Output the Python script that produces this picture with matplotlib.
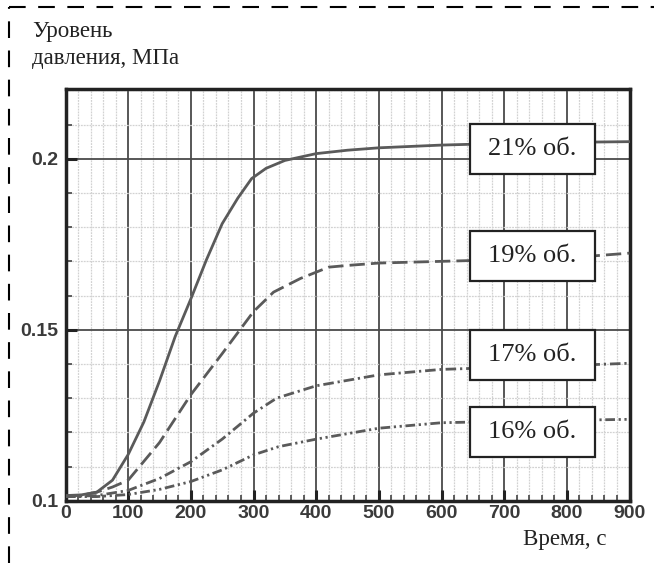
import matplotlib
matplotlib.use("Agg")
import matplotlib.pyplot as plt
from matplotlib.lines import Line2D
from matplotlib.patches import Rectangle
from matplotlib.ticker import MultipleLocator, FixedLocator, FixedFormatter

# ---- data ----
t21 = [0, 25, 50, 75, 100, 125, 150, 175, 200, 225, 250, 275, 297, 320, 350, 400, 450, 500, 600, 700, 800, 900]
p21 = [0.1015, 0.1017, 0.1025, 0.106, 0.1135, 0.123, 0.135, 0.148, 0.159, 0.1705, 0.181, 0.1885, 0.1942,
       0.1972, 0.1995, 0.2015, 0.2025, 0.2032, 0.204, 0.2045, 0.2048, 0.205]

t19 = [0, 25, 50, 75, 100, 150, 200, 250, 300, 332, 375, 420, 450, 500, 600, 700, 800, 900]
p19 = [0.1013, 0.1016, 0.1025, 0.104, 0.106, 0.117, 0.131, 0.143, 0.1553, 0.161, 0.165, 0.1683, 0.1688,
       0.1695, 0.170, 0.1705, 0.171, 0.1724]

t17 = [0, 50, 100, 150, 200, 250, 300, 337, 400, 500, 600, 700, 800, 900]
p17 = [0.1012, 0.1015, 0.1030, 0.1065, 0.1114, 0.118, 0.1256, 0.1300, 0.1336, 0.1368, 0.1384, 0.139, 0.1395, 0.1402]

t16 = [0, 50, 100, 150, 200, 250, 300, 340, 400, 500, 600, 700, 800, 900]
p16 = [0.1012, 0.1012, 0.1018, 0.1033, 0.1056, 0.109, 0.1134, 0.1158, 0.1180, 0.1212, 0.1228, 0.1232, 0.1235, 0.1238]

labels = ["21% об.", "19% об.", "17% об.", "16% об."]
label_t = [745, 745, 745, 745]
label_p = [0.2028, 0.1716, 0.1425, 0.1200]

x_ticks = [0, 100, 200, 300, 400, 500, 600, 700, 800, 900]
y_ticks = [0.1, 0.15, 0.2]
y_tick_labels = ["0.1", "0.15", "0.2"]

# ---- figure ----
W, H = 654, 563
fig = plt.figure(figsize=(W / 100, H / 100), dpi=100)
ax = fig.add_axes([65.5 / W, (H - 500.7) / H, (629.5 - 65.5) / W, (500.7 - 89) / H])

curve_col = "#5a5a5a"
ax.plot(t21, p21, color=curve_col, lw=2.0, ls="-", zorder=3)
ax.plot(t19, p19, color=curve_col, lw=2.0, ls=(0, (5.5, 2.2)), zorder=3)
ax.plot(t17, p17, color=curve_col, lw=2.0, ls=(0, (3.8, 1.4, 0.8, 1.4)), zorder=3)
ax.plot(t16, p16, color=curve_col, lw=2.0, ls=(0, (3.5, 1.3, 0.8, 1.3, 0.8, 1.3)), zorder=3)

ax.set_xlim(0, 900)
ax.set_ylim(0.1, 0.2204)

ax.xaxis.set_major_locator(FixedLocator(x_ticks))
ax.xaxis.set_minor_locator(MultipleLocator(20))
ax.yaxis.set_major_locator(FixedLocator(y_ticks))
ax.yaxis.set_major_formatter(FixedFormatter(y_tick_labels))
ax.yaxis.set_minor_locator(MultipleLocator(0.01))

ax.grid(which="major", color="#4a4a4a", lw=1.3, ls="-", zorder=1)
ax.grid(which="minor", color="#d2d2d2", lw=0.9, ls=(0, (1.5, 0.8)), zorder=0)
ax.set_axisbelow(True)

for s in ax.spines.values():
    s.set_linewidth(2.5)
    s.set_color("#222222")

ax.tick_params(which="major", direction="in", length=8, width=2.2, color="#222222",
               labelsize=14, labelcolor="#3a3a3a", pad=3)
ax.tick_params(which="minor", direction="in", length=4, width=1.2, color="#444444")
for lab in ax.get_xticklabels() + ax.get_yticklabels():
    lab.set_fontfamily("Liberation Sans")
    lab.set_fontweight("bold")
ax.tick_params(axis="y", pad=5)

# label boxes
bw = 125 / 564 * 900
bh = 50 / 411.7 * (0.2204 - 0.1)
for lab, tx, py in zip(labels, label_t, label_p):
    ax.add_patch(Rectangle((tx - bw / 2, py - bh / 2), bw, bh, facecolor="white",
                           edgecolor="#222222", lw=1.6, zorder=5))
    ax.text(tx, py, lab, ha="center", va="center", fontsize=19,
            family="Liberation Serif", color="#222222", zorder=6)

# axis titles
fig.text(32 / W, 1 - 21 / H, "Уровень\nдавления, МПа", ha="left", va="top",
         fontsize=16.5, family="Liberation Serif", color="#222222", linespacing=1.35)
fig.text(565 / W, 1 - 539 / H, "Время, с", ha="center", va="center",
         fontsize=16.5, family="Liberation Serif", color="#222222")

# dashed frame (top and left)
dash = (0, (8, 6))
fig.add_artist(Line2D([9 / W, 1.0], [1 - 7 / H, 1 - 7 / H], transform=fig.transFigure,
                      color="black", lw=1.5, ls=dash))
fig.add_artist(Line2D([9 / W, 9 / W], [0.0, 1 - 7 / H], transform=fig.transFigure,
                      color="black", lw=1.5, ls=dash))

fig.savefig("out.png", dpi=100)
